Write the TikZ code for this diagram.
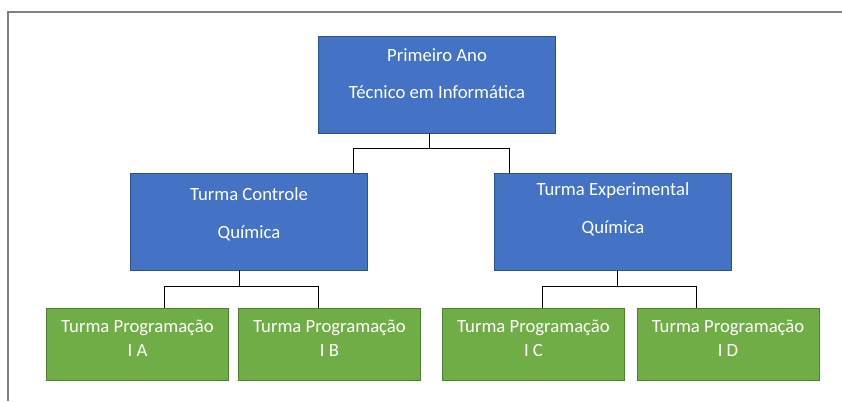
\documentclass[tikz,border=0pt]{standalone}
\usepackage{fontspec}
\setmainfont{Carlito}
\usepackage{xcolor}
\usepackage{tikz}
\usetikzlibrary{arrows.meta,positioning,calc}
\definecolor{boxblue}{HTML}{4472C4}
\definecolor{blueedge}{HTML}{2F528F}
\definecolor{boxgreen}{HTML}{70AD47}
\definecolor{greenedge}{HTML}{507E32}
\definecolor{framegray}{HTML}{7F7F7F}
\tikzset{
  bluebox/.style={rectangle,fill=boxblue,draw=blueedge,line width=0.8pt,
    minimum width=237pt,minimum height=97pt,inner sep=0pt},
  greenbox/.style={rectangle,fill=boxgreen,draw=greenedge,line width=0.8pt,
    minimum width=182pt,minimum height=72pt,inner sep=0pt},
  boxtext/.style={text=white,font=\fontsize{18.7}{22.5}\selectfont,align=center,inner sep=0pt},
  link/.style={draw=black,line width=1pt}
}

\begin{document}
\begin{tikzpicture}[x=1pt,y=-1pt]
    \useasboundingbox (0,0) rectangle (842,401);
    \draw[framegray,line width=1.2pt] (8,401) |- (842,12);

    % boxes
    \node[bluebox,label={[boxtext,yshift=11pt]center:Primeiro Ano\\[15pt]Técnico em Informática}]
      (ano) at (437,84.5) {};
    \node[bluebox,label={[boxtext,yshift=7pt]center:Turma Controle\\[15.5pt]Química}]
      (controle) at (249,221.5) {};
    \node[bluebox,label={[boxtext,yshift=12pt]center:Turma Experimental\\[15.5pt]Química}]
      (experimental) at (613,221.5) {};
    \node[greenbox,label={[boxtext,yshift=6pt]center:Turma Programação\\[1.5pt]I A}]
      (ia) at (137.5,344) {};
    \node[greenbox,label={[boxtext,yshift=6pt]center:Turma Programação\\[1.5pt]I B}]
      (ib) at (329.5,344) {};
    \node[greenbox,label={[boxtext,yshift=6pt]center:Turma Programação\\[1.5pt]I C}]
      (ic) at (533.5,344) {};
    \node[greenbox,label={[boxtext,yshift=6pt]center:Turma Programação\\[1.5pt]I D}]
      (id) at (728,344) {};

    % connector ends
    \coordinate (bus1) at (0,148);
    \coordinate (bus2) at (0,286);
    \coordinate (ano-s) at ($(ano.south west)!0.47!(ano.south east)$);
    \coordinate (controle-n) at ($(controle.north west)!0.94!(controle.north east)$);
    \coordinate (experimental-n) at ($(experimental.north west)!0.063!(experimental.north east)$);
    \coordinate (controle-s) at ($(controle.south west)!0.46!(controle.south east)$);
    \coordinate (experimental-s) at ($(experimental.south west)!0.52!(experimental.south east)$);
    \coordinate (ia-n) at ($(ia.north west)!0.645!(ia.north east)$);
    \coordinate (ib-n) at ($(ib.north west)!0.44!(ib.north east)$);
    \coordinate (ic-n) at ($(ic.north west)!0.547!(ic.north east)$);
    \coordinate (id-n) at ($(id.north west)!0.33!(id.north east)$);

    \draw[link] (ano-s) -- (ano-s |- bus1);
    \draw[link] (controle-n) |- (experimental-n |- bus1) -- (experimental-n);
    \draw[link] (controle-s) -- (controle-s |- bus2);
    \draw[link] (ia-n) |- (ib-n |- bus2) -- (ib-n);
    \draw[link] (experimental-s) -- (experimental-s |- bus2);
    \draw[link] (ic-n) |- (id-n |- bus2) -- (id-n);
  \end{tikzpicture}
\end{document}
